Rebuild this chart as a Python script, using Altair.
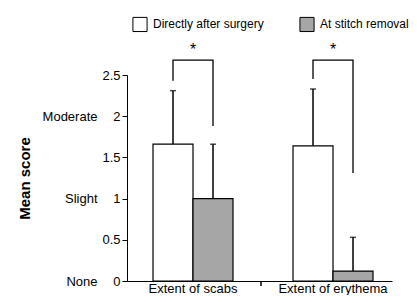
import altair as alt
import pandas as pd

categories = ["Extent of scabs", "Extent of erythema"]
series = ["Directly after surgery", "At stitch removal"]
mean_after = [1.66, 1.64]
mean_removal = [1.00, 0.12]
sd_after = [0.65, 0.69]
sd_removal = [0.66, 0.41]
bracket_top = [2.68, 2.68]
bracket_left_end = [2.43, 2.45]
bracket_right_end = [1.88, 1.31]
star_level = [2.74, 2.74]
score_ticks = [0, 0.5, 1, 1.5, 2, 2.5]
word_values = [0, 1, 2]
word_labels = ["None", "Slight", "Moderate"]

FONT = "Liberation Sans"
W, H = 265, 206

rows = []
for i, c in enumerate(categories):
    rows.append({"category": c, "series": series[0], "mean": mean_after[i], "top": mean_after[i] + sd_after[i]})
    rows.append({"category": c, "series": series[1], "mean": mean_removal[i], "top": mean_removal[i] + sd_removal[i]})
bars_df = pd.DataFrame(rows)

brows = []
for i, c in enumerate(categories):
    brows += [
        {"category": c, "series": series[0], "y": bracket_left_end[i], "o": 0},
        {"category": c, "series": series[0], "y": bracket_top[i], "o": 1},
        {"category": c, "series": series[1], "y": bracket_top[i], "o": 2},
        {"category": c, "series": series[1], "y": bracket_right_end[i], "o": 3},
    ]
br_df = pd.DataFrame(brows)
star_df = pd.DataFrame({"category": categories, "y": star_level, "t": ["*", "*"]})
words_df = pd.DataFrame({"v": word_values, "w": word_labels})

yscale = alt.Scale(domain=[0, 2.5], nice=False, zero=True)
xenc = alt.X("category:N", sort=categories,
             scale=alt.Scale(paddingInner=0.4286, paddingOuter=0.1607, align=0.578),
             axis=alt.Axis(title=None, labelAngle=0, ticks=False, labelPadding=1,
                           domainColor="black", labelColor="black", labelFontSize=13))
xoff = alt.XOffset("series:N", sort=series, scale=alt.Scale(paddingInner=0, paddingOuter=0))

base = alt.Chart(bars_df)
bars = base.mark_bar(stroke="black", strokeWidth=1.2).encode(
    x=xenc, xOffset=xoff,
    y=alt.Y("mean:Q", scale=yscale,
            axis=alt.Axis(title=None, values=score_ticks, format="~g", tickSize=5, labelPadding=2,
                          grid=False, domainColor="black", tickColor="black",
                          labelColor="black", labelFontSize=13)),
    fill=alt.Fill("series:N", sort=series,
                  scale=alt.Scale(domain=series, range=["white", "#a6a6a6"]),
                  legend=alt.Legend(title=None, orient="none", legendX=5, legendY=-59,
                                    direction="horizontal", symbolType="square", symbolSize=200,
                                    symbolStrokeColor="black", symbolStrokeWidth=1,
                                    labelFontSize=12, labelColor="black", labelOffset=5,
                                    columnPadding=33, padding=0)),
)
err = base.mark_rule(color="black", strokeWidth=1.5).encode(
    x=xenc, xOffset=xoff, y=alt.Y("mean:Q", scale=yscale), y2="top:Q")
caps = base.mark_tick(color="black", orient="horizontal", size=6, thickness=1.5).encode(
    x=xenc, xOffset=xoff, y=alt.Y("top:Q", scale=yscale))
brackets = alt.Chart(br_df).mark_line(color="black", strokeWidth=1.3).encode(
    x=xenc, xOffset=xoff, y=alt.Y("y:Q", scale=yscale), order="o:Q", detail="category:N")
stars = alt.Chart(star_df).mark_text(fontSize=16, font=FONT, baseline="alphabetic", color="black").encode(
    x=xenc, y=alt.Y("y:Q", scale=yscale), text="t:N")
midtick = alt.Chart(star_df).mark_rule(color="black", strokeWidth=1, xOffset=-32).encode(
    x=alt.XDatum("Extent of erythema", type="nominal", bandPosition=0),
    y=alt.value(H), y2=alt.value(H + 5))

main = alt.layer(bars, err, caps, brackets, stars, midtick)

label_expr = "{" + ",".join(f"'{v}':'{w}'" for v, w in zip(word_values, word_labels)) + "}[toString(datum.value)]"
words = alt.Chart(words_df).mark_point(opacity=0).encode(
    y=alt.Y("v:Q", scale=yscale,
            axis=alt.Axis(orient="left", values=word_values, labelExpr=label_expr, ticks=False,
                          domain=False, grid=False, labelPadding=30, labelFontSize=13,
                          labelColor="black", title="Mean score", titleFontSize=15,
                          titleFontWeight="bold", titleColor="black", titlePadding=10)))

chart = alt.layer(main, words).resolve_scale(y="independent").properties(
    width=W, height=H,
    autosize=alt.AutoSizeParams(type="none"),
    padding={"left": 119, "top": 67, "right": 17, "bottom": 14},
).configure(font=FONT).configure_view(stroke=None)

chart.save("out.html", embed_options={"renderer": "svg", "actions": False})
